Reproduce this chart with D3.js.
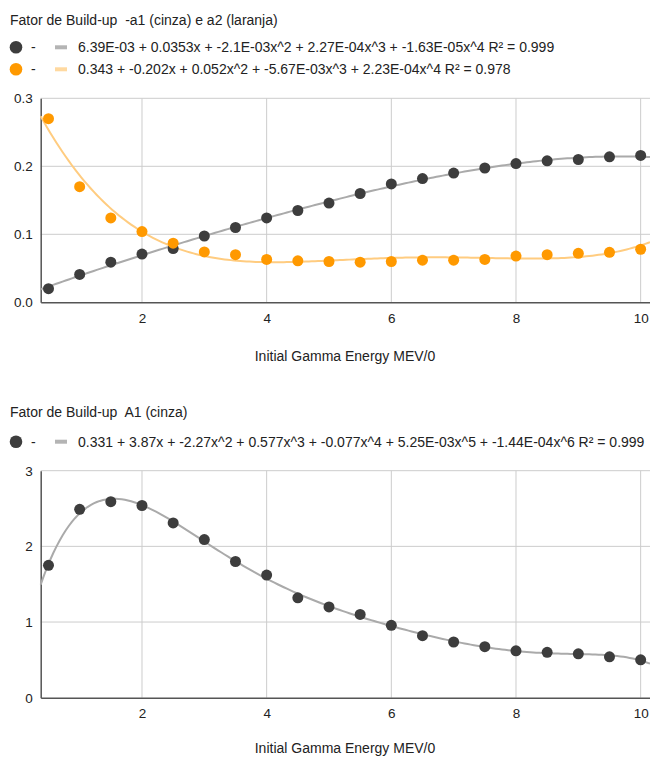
<!DOCTYPE html>
<html>
<head>
<meta charset="utf-8">
<script src="https://cdn.jsdelivr.net/npm/d3@7"></script>
<style>
  body { margin: 0; background: #fff; }
  text { font-family: "Liberation Sans", Arial, sans-serif; fill: #222; }
</style>
</head>
<body>
<div id="chart"></div>
<script>
// dados
var energia = [0.5, 1, 1.5, 2, 2.5, 3, 3.5, 4, 4.5, 5, 5.5, 6, 6.5, 7, 7.5, 8, 8.5, 9, 9.5, 10];
var a1 = [0.020, 0.041, 0.059, 0.071, 0.079, 0.0975, 0.110, 0.124, 0.135, 0.146,
          0.160, 0.174, 0.182, 0.190, 0.1975, 0.204, 0.208, 0.210, 0.214, 0.216];
var a2 = [0.270, 0.170, 0.124, 0.104, 0.087, 0.074, 0.070, 0.063, 0.061, 0.060,
          0.059, 0.060, 0.062, 0.062, 0.063, 0.068, 0.070, 0.072, 0.0735, 0.078];
var A1 = [1.75, 2.49, 2.59, 2.54, 2.31, 2.09, 1.80, 1.62, 1.32, 1.20,
          1.10, 0.956, 0.82, 0.736, 0.674, 0.62, 0.60, 0.58, 0.54, 0.50];

var eqA1 = "6.39E-03 + 0.0353x + -2.1E-03x^2 + 2.27E-04x^3 + -1.63E-05x^4 R\u00b2 = 0.999";
var eqA2 = "0.343 + -0.202x + 0.052x^2 + -5.67E-03x^3 + 2.23E-04x^4 R\u00b2 = 0.978";
var eqB1 = "0.331 + 3.87x + -2.27x^2 + 0.577x^3 + -0.077x^4 + 5.25E-03x^5 + -1.44E-04x^6 R\u00b2 = 0.999";

var xTicks = [2, 4, 6, 8, 10];
var yTicksTop = [0, 0.1, 0.2, 0.3];
var yTicksBot = [0, 1, 2, 3];

var cinza = "#3d3d3d";
var laranja = "#ff9900";

var svg = d3.select("#chart")
    .append("svg")
    .attr("width", 650)
    .attr("height", 758);

// ajuste polinomial por minimos quadrados (x escalado por 1/10)
function ajuste(xs, ys, grau) {
  var n = grau + 1, A = [], b = [];
  for (var i = 0; i < n; i++) {
    A.push([]);
    for (var j = 0; j < n; j++) A[i].push(d3.sum(xs, function (x) { return Math.pow(x / 10, i + j); }));
    b.push(d3.sum(xs, function (x, k) { return ys[k] * Math.pow(x / 10, i); }));
  }
  for (var c = 0; c < n; c++) {
    var p = c;
    for (var r = c + 1; r < n; r++) if (Math.abs(A[r][c]) > Math.abs(A[p][c])) p = r;
    var t = A[c]; A[c] = A[p]; A[p] = t; t = b[c]; b[c] = b[p]; b[p] = t;
    for (var r2 = c + 1; r2 < n; r2++) {
      var f = A[r2][c] / A[c][c];
      for (var k = c; k < n; k++) A[r2][k] -= f * A[c][k];
      b[r2] -= f * b[c];
    }
  }
  var coef = new Array(n);
  for (var i2 = n - 1; i2 >= 0; i2--) {
    var s = b[i2];
    for (var k2 = i2 + 1; k2 < n; k2++) s -= A[i2][k2] * coef[k2];
    coef[i2] = s / A[i2][i2];
  }
  return function (x) {
    var v = 0;
    for (var q = 0; q < n; q++) v += coef[q] * Math.pow(x / 10, q);
    return v;
  };
}

function grafico(g) {
  var x = d3.scaleLinear().domain([0.375, 10.15]).range([40.7, 650]);
  var y = d3.scaleLinear().domain(g.yDom).range([g.bottom, g.top]);

  svg.append("text")
    .attr("x", 10).attr("y", g.tituloY)
    .attr("font-size", 14)
    .style("white-space", "pre")
    .text(g.titulo);

  g.legendas.forEach(function (l, i) {
    var ly = g.legendaY + i * 22;
    svg.append("circle").attr("cx", 16).attr("cy", ly).attr("r", 6.3).attr("fill", l.cor);
    svg.append("text").attr("x", 31).attr("y", ly + 5).attr("font-size", 14).text("-");
    svg.append("line").attr("x1", 55).attr("x2", 67).attr("y1", ly).attr("y2", ly)
      .attr("stroke", l.corLinha).attr("stroke-width", 4);
    svg.append("text").attr("x", 78).attr("y", ly + 5).attr("font-size", 14).text(l.texto);
  });

  // grade
  svg.append("g").selectAll("line").data(g.yTicks.slice(1)).enter().append("line")
    .attr("x1", x.range()[0]).attr("x2", x.range()[1])
    .attr("y1", function (d) { return y(d); }).attr("y2", function (d) { return y(d); })
    .attr("stroke", "#cccccc").attr("stroke-width", 1);
  svg.append("g").selectAll("line").data(xTicks).enter().append("line")
    .attr("x1", function (d) { return x(d); }).attr("x2", function (d) { return x(d); })
    .attr("y1", y.range()[0]).attr("y2", y.range()[1])
    .attr("stroke", "#cccccc").attr("stroke-width", 1);

  // eixos
  var ax = svg.append("g").attr("transform", "translate(0," + y(g.yDom[0]) + ")")
    .call(d3.axisBottom(x).tickValues(xTicks).tickSize(0).tickPadding(11).tickFormat(d3.format("d")));
  ax.select(".domain").attr("stroke", "#555").attr("stroke-width", 1.5);
  ax.selectAll("text").attr("font-size", 13.5).attr("fill", "#222");

  var ay = svg.append("g").attr("transform", "translate(" + x.range()[0] + ",0)")
    .call(d3.axisLeft(y).tickValues(g.yTicks).tickSize(0).tickPadding(8).tickFormat(g.yFmt));
  ay.select(".domain").attr("stroke", "#555").attr("stroke-width", 1.5);
  ay.selectAll("text").attr("font-size", 13.5).attr("fill", "#222");

  svg.append("text")
    .attr("x", 345).attr("y", g.eixoY)
    .attr("text-anchor", "middle").attr("font-size", 14)
    .text("Initial Gamma Energy MEV/0");

  // linhas de tendencia
  var xs = d3.range(0.375, 10.15, 0.05).concat([10.15]);
  g.series.forEach(function (s) {
    var f = ajuste(energia, s.valores, s.grau);
    var line = d3.line()
      .x(function (d) { return x(d); })
      .y(function (d) { return y(f(d)); });
    svg.append("path").datum(xs)
      .attr("d", line).attr("fill", "none")
      .attr("stroke", s.corLinha).attr("stroke-width", 2);
  });

  g.series.forEach(function (s) {
    svg.append("g").selectAll("circle").data(s.valores).enter().append("circle")
      .attr("cx", function (d, i) { return x(energia[i]); })
      .attr("cy", function (d) { return y(d); })
      .attr("r", 5.5)
      .attr("fill", s.cor);
  });
}

grafico({
  top: 98.3, bottom: 302.3, tituloY: 25, legendaY: 47.3, eixoY: 361,
  titulo: "Fator de Build-up  -a1 (cinza) e a2 (laranja)",
  legendas: [{ cor: cinza, corLinha: "#b4b4b4", texto: eqA1 },
             { cor: laranja, corLinha: "#ffd9a0", texto: eqA2 }],
  series: [{ valores: a1, grau: 4, cor: cinza, corLinha: "#aaaaaa" },
           { valores: a2, grau: 4, cor: laranja, corLinha: "#ffcc80" }],
  yDom: [0, 0.3], yTicks: yTicksTop, yFmt: d3.format(".1f")
});

grafico({
  top: 470.7, bottom: 697.7, tituloY: 417, legendaY: 441.7, eixoY: 753,
  titulo: "Fator de Build-up  A1 (cinza)",
  legendas: [{ cor: cinza, corLinha: "#b4b4b4", texto: eqB1 }],
  series: [{ valores: A1, grau: 6, cor: cinza, corLinha: "#aaaaaa" }],
  yDom: [0, 3], yTicks: yTicksBot, yFmt: d3.format("d")
});
</script>
</body>
</html>
